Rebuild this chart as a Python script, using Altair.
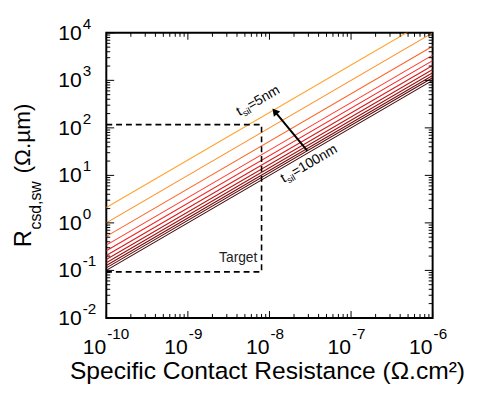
import altair as alt
import pandas as pd

# ---------------- data ----------------
t_sil = [5, 10, 20, 30, 40, 50, 60, 70, 80, 90, 100]          # nm
rho_ends = [1e-10, 1e-6]                                         # Ohm.cm2
r_at_left = [2.1, 1.0, 0.52, 0.34, 0.26, 0.205, 0.17, 0.145, 0.127, 0.113, 0.1]
r_at_right = [2.1e4, 1.0e4, 5.2e3, 3.4e3, 2.6e3, 2.05e3, 1.7e3, 1.45e3, 1.27e3, 1.13e3, 1.0e3]
line_colors = ["#ffa42a", "#ff8a1c", "#ff6426", "#ff3a2a", "#ef2323", "#d61c1c",
               "#b81616", "#981111", "#780c0c", "#5a0808", "#3c0404"]

box_x = [1e-10, 8e-9, 8e-9, 1e-10]
box_y = [117, 117, 0.093, 0.093]

x_exps = [-10, -9, -8, -7, -6]
y_exps = [-2, -1, 0, 1, 2, 3, 4]

arrow_tail = (2.9e-8, 33)
arrow_head = (1.16e-8, 223)

W, H = 332, 290

xs = alt.Scale(type="log", domain=[1e-10, 1e-6], nice=False)
ys = alt.Scale(type="log", domain=[1e-2, 1e4], nice=False)

# ---------------- lines ----------------
rows = []
for t, rl, rr, c in zip(t_sil, r_at_left, r_at_right, line_colors):
    rows.append({"t": t, "rho": rho_ends[0], "R": rl})
    rows.append({"t": t, "rho": rho_ends[1], "R": rr})
df_lines = pd.DataFrame(rows)

lines = alt.Chart(df_lines).mark_line(strokeWidth=1.1, clip=True).encode(
    x=alt.X("rho:Q", scale=xs, axis=None),
    y=alt.Y("R:Q", scale=ys, axis=None),
    color=alt.Color("t:N", scale=alt.Scale(domain=t_sil, range=line_colors), legend=None),
    detail="t:N",
)

# ---------------- target box ----------------
df_box = pd.DataFrame({"x": box_x, "y": box_y, "o": list(range(len(box_x)))})
box = alt.Chart(df_box).mark_line(color="black", strokeWidth=1.6, strokeDash=[6, 4]).encode(
    x=alt.X("x:Q", scale=xs), y=alt.Y("y:Q", scale=ys), order="o:Q"
)
target_txt = alt.Chart(pd.DataFrame({"x": [7.1e-9], "y": [0.15], "s": ["Target"]})).mark_text(
    align="right", baseline="alphabetic", fontSize=14, font="Liberation Sans", color="#222"
).encode(x=alt.X("x:Q", scale=xs), y=alt.Y("y:Q", scale=ys), text="s:N")

# ---------------- ticks ----------------
major_x = [10.0 ** e for e in x_exps]
minor_x = [m * 10.0 ** e for e in x_exps[:-1] for m in range(2, 10)]
major_y = [10.0 ** e for e in y_exps]
minor_y = [m * 10.0 ** e for e in y_exps[:-1] for m in range(2, 10)]


def xticks(vals, ln):
    d = pd.DataFrame({"v": vals})
    b = alt.Chart(d).mark_rule(color="black", strokeWidth=1).encode(
        x=alt.X("v:Q", scale=xs), y=alt.value(H), y2=alt.value(H - ln))
    t = alt.Chart(d).mark_rule(color="black", strokeWidth=1).encode(
        x=alt.X("v:Q", scale=xs), y=alt.value(0), y2=alt.value(ln))
    return b + t


def yticks(vals, ln):
    d = pd.DataFrame({"v": vals})
    l = alt.Chart(d).mark_rule(color="black", strokeWidth=1).encode(
        y=alt.Y("v:Q", scale=ys), x=alt.value(0), x2=alt.value(ln))
    r = alt.Chart(d).mark_rule(color="black", strokeWidth=1).encode(
        y=alt.Y("v:Q", scale=ys), x=alt.value(W), x2=alt.value(W - ln))
    return l + r


ticks = xticks(major_x, 7) + xticks(minor_x, 4) + yticks(major_y, 8) + yticks(minor_y, 4)

# ---------------- tick labels ----------------
FONT = "Liberation Sans"
dfx = pd.DataFrame({"v": major_x, "e": [str(e) for e in x_exps], "b": ["10"] * len(x_exps)})
xlab_base = alt.Chart(dfx).mark_text(align="center", baseline="alphabetic", fontSize=21.5, font=FONT,
                                     dx=-12, color="black").encode(
    x=alt.X("v:Q", scale=xs), y=alt.value(327), text="b:N")
xlab_exp = alt.Chart(dfx).mark_text(align="left", baseline="alphabetic", fontSize=15.5, font=FONT,
                                    dx=1, color="black").encode(
    x=alt.X("v:Q", scale=xs), y=alt.value(311), text="e:N")

dfy = pd.DataFrame({"v": major_y, "e": [str(e) for e in y_exps], "b": ["10"] * len(y_exps)})
ylab_base = alt.Chart(dfy).mark_text(align="right", baseline="middle", fontSize=21.5, font=FONT,
                                     dy=1, color="black").encode(
    y=alt.Y("v:Q", scale=ys), x=alt.value(-25), text="b:N")
ylab_exp = alt.Chart(dfy).mark_text(align="left", baseline="alphabetic", fontSize=15.5, font=FONT,
                                    dy=-4, dx=1, color="black").encode(
    y=alt.Y("v:Q", scale=ys), x=alt.value(-25), text="e:N")

# ---------------- axis titles ----------------
one = pd.DataFrame({"a": [0]})
xtitle = alt.Chart(one).mark_text(align="center", baseline="alphabetic", fontSize=25, font=FONT,
                                  color="black").encode(
    x=alt.value(164), y=alt.value(352), text=alt.value("Specific Contact Resistance (Ω.cm²)"))

yt_R = alt.Chart(one).mark_text(angle=270, align="left", baseline="alphabetic", fontSize=24,
                                font=FONT, color="black").encode(
    x=alt.value(-77), y=alt.value(218), text=alt.value("R"))
yt_sub = alt.Chart(one).mark_text(angle=270, align="left", baseline="alphabetic", fontSize=16,
                                  font=FONT, color="black").encode(
    x=alt.value(-66), y=alt.value(200), text=alt.value("csd,sw"))
yt_unit = alt.Chart(one).mark_text(angle=270, align="left", baseline="alphabetic", fontSize=23,
                                   font=FONT, color="black").encode(
    x=alt.value(-78), y=alt.value(143), text=alt.value("(Ω.µm)"))

# ---------------- arrow + annotations ----------------
df_arrow = pd.DataFrame({"x": [arrow_tail[0]], "y": [arrow_tail[1]],
                         "x2": [arrow_head[0]], "y2": [arrow_head[1]]})
arrow_line = alt.Chart(df_arrow).mark_rule(color="black", strokeWidth=2).encode(
    x=alt.X("x:Q", scale=xs), y=alt.Y("y:Q", scale=ys), x2="x2:Q", y2="y2:Q")
arrow_tip = alt.Chart(df_arrow).mark_point(shape="triangle-up", filled=True, color="black",
                                           size=70, angle=320, opacity=1).encode(
    x=alt.X("x2:Q", scale=xs), y=alt.Y("y2:Q", scale=ys))


def tlabel(x, y, rest):
    d = pd.DataFrame({"x": [x], "y": [y]})
    enc = dict(x=alt.X("x:Q", scale=xs), y=alt.Y("y:Q", scale=ys))
    a = alt.Chart(d).mark_text(angle=330, align="left", baseline="alphabetic", fontSize=14,
                               font=FONT, color="black").encode(text=alt.value("t"), **enc)
    b = alt.Chart(d).mark_text(angle=330, align="left", baseline="alphabetic", fontSize=9,
                               font=FONT, color="black", dx=4.3, dy=3).encode(text=alt.value("sil"), **enc)
    c = alt.Chart(d).mark_text(angle=330, align="left", baseline="alphabetic", fontSize=14,
                               font=FONT, color="black", dx=13).encode(text=alt.value(rest), **enc)
    return a + b + c


lab5 = tlabel(4.3e-9, 175, "=5nm")
lab100 = tlabel(1.5e-8, 6.9, "=100nm")

chart = alt.layer(
    lines, box, target_txt, ticks, xlab_base, xlab_exp, ylab_base, ylab_exp,
    xtitle, yt_R, yt_sub, yt_unit, arrow_line, arrow_tip, lab5, lab100
).properties(
    width=W, height=H,
    autosize=alt.AutoSizeParams(type="none"),
    padding={"left": 100, "top": 22, "right": 37, "bottom": 66},
).configure_view(stroke="black", strokeWidth=2)

chart.save("out.html", embed_options={"renderer": "svg", "actions": False})
